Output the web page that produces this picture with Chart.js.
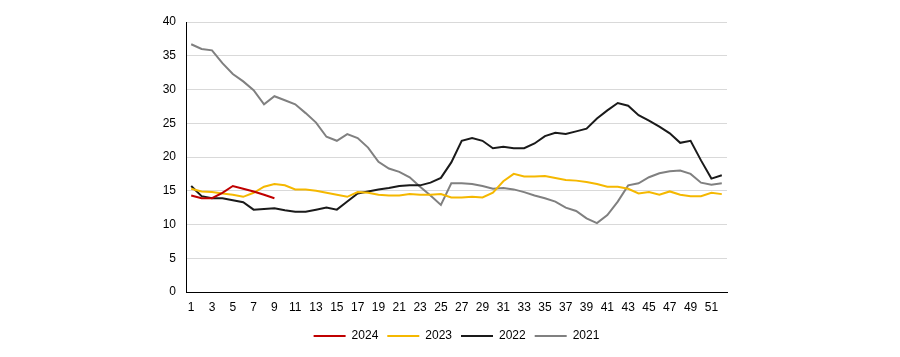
<!DOCTYPE html>
<html>
<head>
<meta charset="utf-8">
<script src="https://cdn.jsdelivr.net/npm/chart.js@4/dist/chart.umd.min.js"></script>
<style>
html,body{margin:0;padding:0;background:#fff;}
#wrap{width:900px;height:357px;position:relative;}
</style>
</head>
<body>
<div id="wrap"><canvas id="c" width="900" height="357"></canvas></div>
<script>
const weeks = Array.from({length: 52}, (_, i) => String(i + 1));

const y2024 = [14.3, 13.9, 13.9, 14.7, 15.7, 15.3, 14.9, 14.4, 13.9];

const y2023 = [15.3, 14.9, 14.8, 14.6, 14.4, 14.1, 14.7, 15.6, 16.0, 15.8,
               15.2, 15.2, 15.0, 14.7, 14.4, 14.1, 14.8, 14.7, 14.4, 14.3,
               14.3, 14.5, 14.4, 14.4, 14.5, 14.0, 14.0, 14.1, 14.0, 14.7,
               16.4, 17.5, 17.1, 17.1, 17.2, 16.9, 16.6, 16.5, 16.3, 16.0,
               15.6, 15.6, 15.3, 14.6, 14.8, 14.4, 14.9, 14.4, 14.2, 14.2,
               14.7, 14.5];

const y2022 = [15.7, 14.2, 13.9, 13.9, 13.6, 13.3, 12.2, 12.3, 12.4, 12.1,
               11.9, 11.9, 12.2, 12.5, 12.2, 13.4, 14.6, 14.9, 15.2, 15.4,
               15.7, 15.8, 15.8, 16.2, 16.9, 19.2, 22.4, 22.8, 22.4, 21.3,
               21.5, 21.3, 21.3, 22.0, 23.1, 23.6, 23.4, 23.8, 24.2, 25.7,
               26.9, 28.0, 27.6, 26.2, 25.4, 24.5, 23.5, 22.1, 22.4, 19.5,
               16.8, 17.3];

const y2021 = [36.7, 36.0, 35.8, 33.9, 32.3, 31.2, 29.9, 27.8, 29.0, 28.4,
               27.8, 26.5, 25.1, 23.0, 22.4, 23.4, 22.8, 21.4, 19.3, 18.3,
               17.8, 17.0, 15.6, 14.3, 12.9, 16.1, 16.1, 16.0, 15.7, 15.3,
               15.4, 15.2, 14.8, 14.3, 13.9, 13.4, 12.5, 12.0, 10.9, 10.2,
               11.4, 13.4, 15.8, 16.1, 17.0, 17.6, 17.9, 18.0, 17.5, 16.2,
               15.9, 16.1];

const yTicks = [0, 5, 10, 15, 20, 25, 30, 35, 40];

const FONT = {family: "'Liberation Sans', Arial, sans-serif", size: 12};

function ds(label, data, color) {
  return {label, data, borderColor: color, backgroundColor: color,
          borderWidth: 2, pointRadius: 0, pointHoverRadius: 0, tension: 0, fill: false};
}

new Chart(document.getElementById('c'), {
  type: 'line',
  data: {
    labels: weeks,
    datasets: [
      ds('2024', y2024, '#c00000'),
      ds('2023', y2023, '#f5b800'),
      ds('2022', y2022, '#1a1a1a'),
      ds('2021', y2021, '#808080')
    ]
  },
  options: {
    responsive: false,
    animation: false,
    layout: {padding: {left: 150, right: 173, top: 22, bottom: 5}},
    plugins: {
      tooltip: {enabled: false},
      legend: {
        position: 'bottom',
        fullSize: false,
        labels: {
          usePointStyle: true, pointStyle: 'line', pointStyleWidth: 32,
          boxHeight: 12, padding: 9, color: '#000', font: FONT
        }
      }
    },
    scales: {
      x: {
        offset: true,
        grid: {display: false, drawTicks: false},
        border: {display: true, color: '#000', width: 1},
        ticks: {
          autoSkip: false, maxRotation: 0, minRotation: 0, padding: 8,
          color: '#000', font: FONT,
          callback: (v, i) => (i % 2 === 0 ? weeks[i] : '')
        },
        afterFit: s => { s.height = 29; }
      },
      y: {
        min: 0, max: 40,
        afterBuildTicks: s => { s.ticks = yTicks.map(v => ({value: v})); },
        grid: {color: '#d9d9d9', lineWidth: 1, drawTicks: false},
        border: {display: true, color: '#000', width: 1},
        ticks: {padding: 10, color: '#000', font: FONT},
        afterFit: s => { s.width = 36; }
      }
    }
  }
});
</script>
</body>
</html>
